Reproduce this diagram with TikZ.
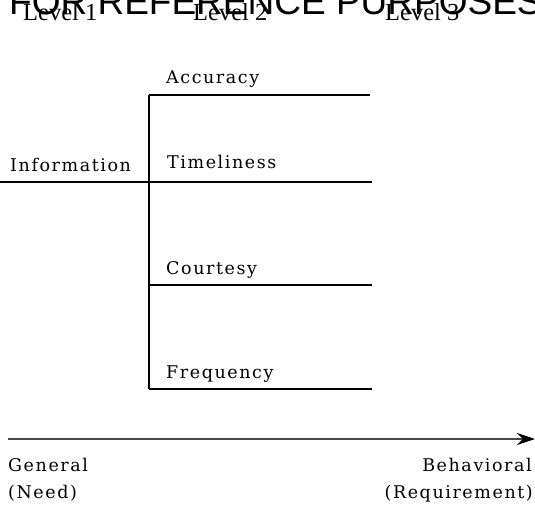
\documentclass[tikz,border=0pt]{standalone}
\usepackage{fontspec}
\setmainfont{DejaVu Serif}
\newfontfamily\levelfont{Liberation Serif}
\newfontfamily\markfont{Liberation Sans}
\newfontfamily\itemfont[LetterSpace=9]{DejaVu Serif}
\usetikzlibrary{arrows.meta}
\begin{document}
\begin{tikzpicture}[x=1pt,y=-1pt,
  label/.style={inner sep=0pt,anchor=base west,font=\itemfont\fontsize{17.5}{20}\selectfont},
  rlabel/.style={label,anchor=base east},
  levellabel/.style={inner sep=0pt,anchor=base west,font=\levelfont\fontsize{24.5}{26}\selectfont},
  branch/.style={line width=1.1pt,black},
  axis/.style={line width=2pt,black!72,-{Stealth[length=18pt,width=12pt,black]}}]
\useasboundingbox (0,0) rectangle (535,506);
% stamp across the top edge
\node[inner sep=0pt,anchor=base west,font=\markfont\fontsize{37}{40}\selectfont] (stamp) at (9,14) {FOR REFERENCE PURPOSES};
% level headings
\node[levellabel] (lev1) at (23,20) {Level 1};
\node[levellabel] (lev2) at (193,20) {Level 2};
\node[levellabel] (lev3) at (385,20) {Level 3};
% tree labels
\node[label] (info) at (10,171) {Information};
\node[label] (acc) at (166,83) {Accuracy};
\node[label] (time) at (167,168) {Timeliness};
\node[label] (cour) at (166,274) {Courtesy};
\node[label] (freq) at (166,378) {Frequency};
% line anchors
\coordinate (root) at (0,182);
\coordinate (trunktop) at (149,95);
\coordinate (trunkmid) at (149,182);
\coordinate (trunkcour) at (149,285);
\coordinate (trunkbot) at (149,389);
\coordinate (accend) at (370,95);
\coordinate (timeend) at (372,182);
\coordinate (courend) at (372,285);
\coordinate (freqend) at (372,389);
\draw[branch] (root) -- (trunkmid);
\draw[branch] (trunktop) -- (trunkbot);
\draw[branch] (trunktop) -- (accend);
\draw[branch] (trunkmid) -- (timeend);
\draw[branch] (trunkcour) -- (courend);
\draw[branch] (trunkbot) -- (freqend);
% axis from general to behavioral
\coordinate (axisstart) at (8,439);
\coordinate (axisend) at (535,439);
\draw[axis] (axisstart) -- (axisend);
\node[label] (gen) at (8,471) {General};
\node[label] (need) at (8,498) {(Need)};
\node[rlabel] (beh) at (532,471) {Behavioral};
\node[rlabel] (req) at (533,498) {(Requirement)};
\end{tikzpicture}
\end{document}
